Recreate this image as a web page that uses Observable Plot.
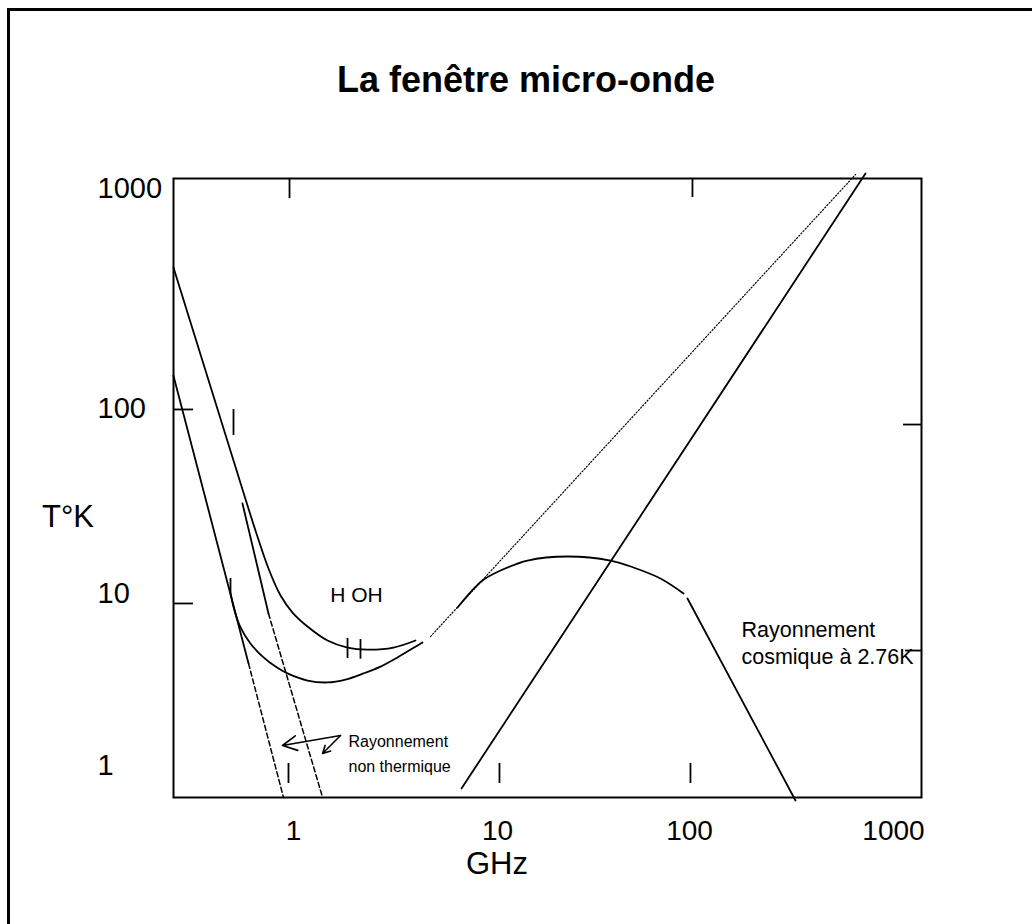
<!DOCTYPE html>
<html>
<head>
<meta charset="utf-8">
<script src="https://cdn.jsdelivr.net/npm/d3@7"></script>
<script src="https://cdn.jsdelivr.net/npm/@observablehq/plot@0.6"></script>
<style>
  html, body { margin: 0; padding: 0; background: #fff; }
  body { font-family: "Liberation Sans", Arial, Helvetica, sans-serif; color: #000; }
  #page { position: relative; width: 1032px; height: 924px; overflow: hidden; }
  #box { position: absolute; left: 7px; top: 8px; width: 1200px; height: 1200px;
         border-left: 3px solid #000; border-top: 3px solid #000; box-sizing: border-box; }
  #chart { position: absolute; left: 0; top: 0; }
  .lbl { position: absolute; white-space: nowrap; }
  #title { left: 0; width: 1052px; text-align: center; top: 62px; line-height: 1; font-size: 36px; font-weight: bold; }
  #ylab { left: 42px; top: 501px; line-height: 1; font-size: 31px; }
  #xlab { left: 397px; width: 200px; text-align: center; top: 853px; line-height: 0.7; font-size: 31px; }
</style>
</head>
<body>
<div id="page">
  <div id="box"></div>
  <div id="chart"></div>
  <div id="title" class="lbl">La fenêtre micro-onde</div>
  <div id="ylab" class="lbl">T°K</div>
  <div id="xlab" class="lbl">GHz</div>
</div>
<script>
// ---- Axis ticks ----
const xTicks = [1, 10, 100, 1000];       // GHz
const yTicks = [1, 10, 100, 1000];       // K

// ---- Curves (frequency in GHz, temperature in K) ----
// Upper galactic background curve (with H / OH lines)
const hiGHz = [0.258, 0.454, 0.651, 0.754, 0.864, 0.989, 1.171, 1.468, 1.840, 2.306, 3.091, 3.963];
const hiK   = [437, 78.0, 21.9, 13.65, 9.73, 7.75, 6.43, 5.33, 4.85, 4.72, 4.85, 5.33];
// Lower galactic background curve
const loGHz = [0.486, 0.514, 0.550, 0.615, 0.713, 0.816, 0.934, 1.171, 1.468, 1.799, 2.203, 2.670, 3.234, 4.286];
const loK   = [10.64, 7.97, 6.35, 5.12, 4.25, 3.76, 3.43, 3.12, 3.04, 3.16, 3.43, 3.76, 4.25, 5.19];
// Non-thermal power laws (solid part then dashed extension)
const ntLoGHz = [0.258, 0.602, 0.893];
const ntLoK   = [141, 3.92, 0.652];
const ntHiGHz = [0.562, 0.754, 1.388];
const ntHiK   = [30.7, 7.65, 0.652];
// Dotted atmospheric line
const dotGHz = [4.695, 651.5];
const dotK   = [5.62, 1158];
// Cosmic background (2.76 K) arc and its Wien fall-off
const arcGHz = [6.37, 7.13, 8.44, 10.37, 14.33, 23.15, 38.77, 51.1, 70.6, 93.1];
const arcK   = [8.29, 9.73, 11.76, 13.31, 15.07, 15.85, 15.07, 13.82, 12.05, 10.0];
const fallGHz = [97.6, 330.8];
const fallK   = [9.35, 0.626];
// Quantum noise line
const qGHz = [6.66, 729];
const qK   = [0.735, 1170];

// ---- Small hand-drawn marks ----
const markGHz = [0.508, 0.491, 1.840, 2.13];
const markK1  = [98.8, 12.05, 5.48, 5.40];
const markK2  = [71.5, 10.0, 4.19, 4.15];

// inner frame ticks
const topTickGHz = [0.956, 103.4];
const topTickK1 = [1110, 1110];
const topTickK2 = [900, 910];
const botTickGHz = [0.945, 10.24, 101.1];
const botTickK1 = [1.027, 1.027, 1.027];
const botTickK2 = [0.786, 0.786, 0.786];
const sideTickK = [98.8, 8.75, 81.9, 4.66];
const sideTickG1 = [0.258, 0.258, 1119, 1145];
const sideTickG2 = [0.3234, 0.3234, 1371, 1371];

// ---- Annotations ----
const noteText = ["H OH", "Rayonnement", "non thermique", "Rayonnement", "cosmique à 2.76K"];
const noteGHz  = [2.036, 1.86, 1.86, 179.8, 179.8];
const noteK    = [9.73, 1.379, 0.987, 6.09, 4.25];
const noteSize = [21, 16, 16, 21.5, 21.5];
const noteAnchor = ["middle", "start", "start", "start", "start"];

const arrowFromGHz = [1.70, 1.70];
const arrowFromK   = [1.494, 1.494];
const arrowToGHz   = [0.8835, 1.388];
const arrowToK     = [1.307, 1.174];

// ---- build tables ----
const pts = (xs, ys) => xs.map((x, i) => ({ghz: x, k: ys[i]}));
const hi = pts(hiGHz, hiK);
const lo = pts(loGHz, loK);
const ntLoSolid = pts(ntLoGHz.slice(0, 2), ntLoK.slice(0, 2));
const ntLoDash  = pts(ntLoGHz.slice(1), ntLoK.slice(1));
const ntHiSolid = pts(ntHiGHz.slice(0, 2), ntHiK.slice(0, 2));
const ntHiDash  = pts(ntHiGHz.slice(1), ntHiK.slice(1));
const dot = pts(dotGHz, dotK);
const arc = pts(arcGHz, arcK);
const fall = pts(fallGHz, fallK);
const q = pts(qGHz, qK);
const marks = markGHz.map((g, i) => ({ghz: g, k1: markK1[i], k2: markK2[i]}));
const topTicks = topTickGHz.map((g, i) => ({ghz: g, k1: topTickK1[i], k2: topTickK2[i]}));
const botTicks = botTickGHz.map((g, i) => ({ghz: g, k1: botTickK1[i], k2: botTickK2[i]}));
const sideTicks = sideTickK.map((k, i) => ({k, g1: sideTickG1[i], g2: sideTickG2[i]}));
const notes = noteText.map((t, i) => ({t, ghz: noteGHz[i], k: noteK[i], size: noteSize[i], anchor: noteAnchor[i]}));
const arrows = arrowFromGHz.map((g, i) => ({g1: g, k1: arrowFromK[i], g2: arrowToGHz[i], k2: arrowToK[i]}));

const line = {stroke: "#000", strokeWidth: 1.8};

const chart = Plot.plot({
  width: 1032,
  height: 924,
  marginLeft: 173,
  marginTop: 178,
  marginRight: 111,
  marginBottom: 127,
  style: {fontFamily: "'Liberation Sans', Arial, Helvetica, sans-serif", background: "transparent", overflow: "visible", color: "#000"},
  x: {type: "log", domain: [1, 10, 100, 1000], range: [293, 497, 689, 893]},
  y: {type: "log", domain: [1, 10, 100, 1000], range: [765, 593, 408, 188]},
  marks: [
    Plot.frame({stroke: "#000", strokeWidth: 2}),
    Plot.axisX(xTicks, {tickSize: 0, tickPadding: 23, fontSize: 28, tickFormat: d => String(d), label: null}),
    Plot.axisY(yTicks, {tickSize: 0, tickPadding: 76, fontSize: 29, textAnchor: "start", tickFormat: d => String(d), label: null}),
    Plot.ruleX(topTicks, {x: "ghz", y1: "k1", y2: "k2", ...line}),
    Plot.ruleX(botTicks, {x: "ghz", y1: "k1", y2: "k2", ...line}),
    Plot.ruleY(sideTicks, {y: "k", x1: "g1", x2: "g2", ...line}),
    Plot.line(hi, {x: "ghz", y: "k", curve: "catmull-rom", ...line}),
    Plot.line(lo, {x: "ghz", y: "k", curve: "catmull-rom", ...line}),
    Plot.line(ntLoSolid, {x: "ghz", y: "k", ...line}),
    Plot.line(ntLoDash, {x: "ghz", y: "k", stroke: "#000", strokeWidth: 1.5, strokeDasharray: "5,3"}),
    Plot.line(ntHiSolid, {x: "ghz", y: "k", ...line}),
    Plot.line(ntHiDash, {x: "ghz", y: "k", stroke: "#000", strokeWidth: 1.5, strokeDasharray: "5,3"}),
    Plot.line(dot, {x: "ghz", y: "k", stroke: "#000", strokeWidth: 1.2, strokeDasharray: "1.2,2"}),
    Plot.line(arc, {x: "ghz", y: "k", curve: "catmull-rom", ...line}),
    Plot.line(fall, {x: "ghz", y: "k", ...line}),
    Plot.line(q, {x: "ghz", y: "k", ...line}),
    Plot.ruleX(marks, {x: "ghz", y1: "k1", y2: "k2", ...line}),
    Plot.arrow(arrows, {x1: "g1", y1: "k1", x2: "g2", y2: "k2", stroke: "#000", strokeWidth: 1.6, headLength: 15, headAngle: 55}),
    Plot.text(notes.filter(d => d.anchor === "middle"), {x: "ghz", y: "k", text: "t", fontSize: 21, textAnchor: "middle", fill: "#000"}),
    Plot.text(notes.filter(d => d.anchor === "start" && d.size === 16), {x: "ghz", y: "k", text: "t", fontSize: 16, textAnchor: "start", fill: "#000"}),
    Plot.text(notes.filter(d => d.anchor === "start" && d.size > 20), {x: "ghz", y: "k", text: "t", fontSize: 21.5, textAnchor: "start", fill: "#000"})
  ]
});
document.getElementById("chart").appendChild(chart);
</script>
</body>
</html>
